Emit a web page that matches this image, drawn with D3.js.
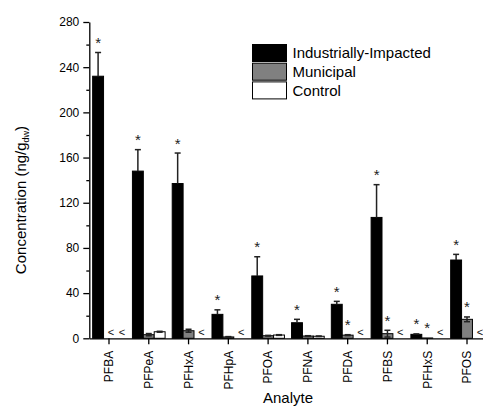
<!DOCTYPE html>
<html>
<head>
<meta charset="utf-8">
<script src="https://cdn.jsdelivr.net/npm/d3@7/dist/d3.min.js"></script>
<style>
  html, body { margin: 0; padding: 0; background: #fff; }
  svg { display: block; font-family: "Liberation Sans", Arial, sans-serif; }
</style>
</head>
<body>
<svg id="chart" width="483" height="408"></svg>
<script>
// Analytes on the x axis
const analytes = ["PFBA", "PFPeA", "PFHxA", "PFHpA", "PFOA", "PFNA", "PFDA", "PFBS", "PFHxS", "PFOS"];
// Sample groups
const series = ["Industrially-Impacted", "Municipal", "Control"];
const seriesFill = ["#000000", "#808080", "#ffffff"];

// Mean concentrations (ng/g dw); null = below detection ("<")
const industrial    = [232, 148, 137, 21.2, 55.2, 13.8, 30.1, 107, 3.5, 69.3];
const industrialErr = [21, 19, 27, 4.0, 17, 3.0, 2.6, 29, 0.4, 5.0];
const municipal     = [null, 3.2, 6.7, 1.2, 2.3, 2.0, 2.8, 4.1, 0.3, 16.8];
const municipalErr  = [0, 1.0, 1.3, 0.3, 0.3, 0.3, 0.4, 3.0, 0, 2.1];
const control       = [null, 5.8, null, null, 2.9, 1.8, null, null, null, null];
const controlErr    = [0, 0.4, 0, 0, 0.3, 0.2, 0, 0, 0, 0];
// Significant differences (asterisks)
const industrialSig = [true, true, true, true, true, true, true, true, true, true];
const municipalSig  = [false, false, false, false, false, false, true, true, true, true];
const controlSig    = [false, false, false, false, false, false, false, false, false, false];

const yTicks = [0, 40, 80, 120, 160, 200, 240, 280];
const yMinorTicks = [20, 60, 100, 140, 180, 220, 260];

const values = [industrial, municipal, control];
const errors = [industrialErr, municipalErr, controlErr];
const sigs = [industrialSig, municipalSig, controlSig];

const rows = [];
analytes.forEach((a, i) => {
  series.forEach((s, j) => {
    rows.push({ analyte: a, series: s, idx: j, value: values[j][i], err: errors[j][i], sig: sigs[j][i] });
  });
});

const svg = d3.select("#chart");

const x = d3.scaleBand().domain(analytes).range([89.1, 486.9]).paddingInner(0).paddingOuter(0);
const xs = d3.scaleBand().domain(series).range([0, x.bandwidth()]).paddingInner(0).paddingOuter(0.326);
const y = d3.scaleLinear().domain([0, 280]).range([338.3, 22]);

const g = svg.append("g");

// Bars
const detected = rows.filter(d => d.value !== null);
g.selectAll("rect.bar").data(detected).join("rect")
  .attr("class", "bar")
  .attr("x", d => x(d.analyte) + xs(d.series))
  .attr("width", xs.bandwidth())
  .attr("y", d => y(d.value))
  .attr("height", d => y(0) - y(d.value))
  .attr("fill", d => seriesFill[d.idx])
  .attr("stroke", "#000")
  .attr("stroke-width", 1);

// Error bars: upper whisker everywhere, lower whisker shows only on the lighter bars
const withErr = detected.filter(d => d.err > 0);
const cx = d => x(d.analyte) + xs(d.series) + xs.bandwidth() / 2;
const lo = d => d.idx === 0 ? d.value : Math.max(0, d.value - d.err);
const eg = g.selectAll("g.err").data(withErr).join("g").attr("class", "err")
  .attr("stroke", "#222").attr("stroke-width", 1.5);
eg.append("line")
  .attr("x1", cx).attr("x2", cx)
  .attr("y1", d => y(lo(d))).attr("y2", d => y(d.value + d.err));
eg.append("line")
  .attr("x1", d => cx(d) - 3).attr("x2", d => cx(d) + 3)
  .attr("y1", d => y(d.value + d.err)).attr("y2", d => y(d.value + d.err));
eg.filter(d => d.idx > 0).append("line")
  .attr("x1", d => cx(d) - 3).attr("x2", d => cx(d) + 3)
  .attr("y1", d => y(lo(d))).attr("y2", d => y(lo(d)));

// Asterisks
g.selectAll("text.sig").data(detected.filter(d => d.sig)).join("text")
  .attr("class", "sig")
  .attr("x", cx)
  .attr("y", d => y(d.value + d.err) - 13 + 8.5)
  .attr("text-anchor", "middle")
  .attr("font-size", 15)
  .attr("fill", "#222")
  .text("*");

// Below-detection markers
g.selectAll("text.lt").data(rows.filter(d => d.value === null)).join("text")
  .attr("class", "lt")
  .attr("x", d => cx(d) + 2)
  .attr("y", y(0) - 2)
  .attr("text-anchor", "middle")
  .attr("font-size", 11)
  .attr("fill", "#111")
  .text("<");

// Y axis
const yAxis = svg.append("g").attr("transform", "translate(89.3,0)")
  .call(d3.axisLeft(y).tickValues(yTicks).tickSize(6).tickPadding(4).tickSizeOuter(0));
svg.append("g").attr("transform", "translate(89.3,0)")
  .call(d3.axisLeft(y).tickValues(yMinorTicks).tickSize(3).tickFormat("").tickSizeOuter(0))
  .select(".domain").remove();
yAxis.selectAll("text").attr("font-size", 12).attr("fill", "#000").attr("font-family", "Liberation Sans, Arial, sans-serif");

// X axis
const xAxis = svg.append("g").attr("transform", "translate(0,338.3)")
  .call(d3.axisBottom(x).tickSize(6).tickSizeOuter(0).tickPadding(4));
xAxis.selectAll("text")
  .attr("font-size", 12).attr("fill", "#000").attr("font-family", "Liberation Sans, Arial, sans-serif")
  .attr("text-anchor", "end")
  .attr("dy", null)
  .attr("transform", "translate(4.3,12.5) rotate(-90)")
  .attr("x", 0).attr("y", 0);

svg.selectAll(".domain, .tick line").attr("stroke", "#000").attr("stroke-width", 1.3);

// Axis titles
svg.append("text")
  .attr("x", 288).attr("y", 403)
  .attr("text-anchor", "middle").attr("font-size", 15)
  .text("Analyte");

const yl = svg.append("text")
  .attr("transform", "translate(26,200) rotate(-90)")
  .attr("text-anchor", "middle").attr("font-size", 15);
yl.append("tspan").text("Concentration (ng/g");
yl.append("tspan").attr("font-size", 9).attr("dy", 3).text("dw");
yl.append("tspan").attr("dy", -3).text(")");

// Legend
const legend = svg.append("g").attr("transform", "translate(252.5,44.5)");
const li = legend.selectAll("g").data(series).join("g")
  .attr("transform", (d, i) => `translate(0,${i * 18.7})`);
li.append("rect").attr("width", 34).attr("height", 17)
  .attr("fill", (d, i) => seriesFill[i]).attr("stroke", "#000").attr("stroke-width", 1);
li.append("text").attr("x", 40).attr("y", 8.5).attr("dy", "0.35em")
  .attr("font-size", 15).text(d => d);
</script>
</body>
</html>
